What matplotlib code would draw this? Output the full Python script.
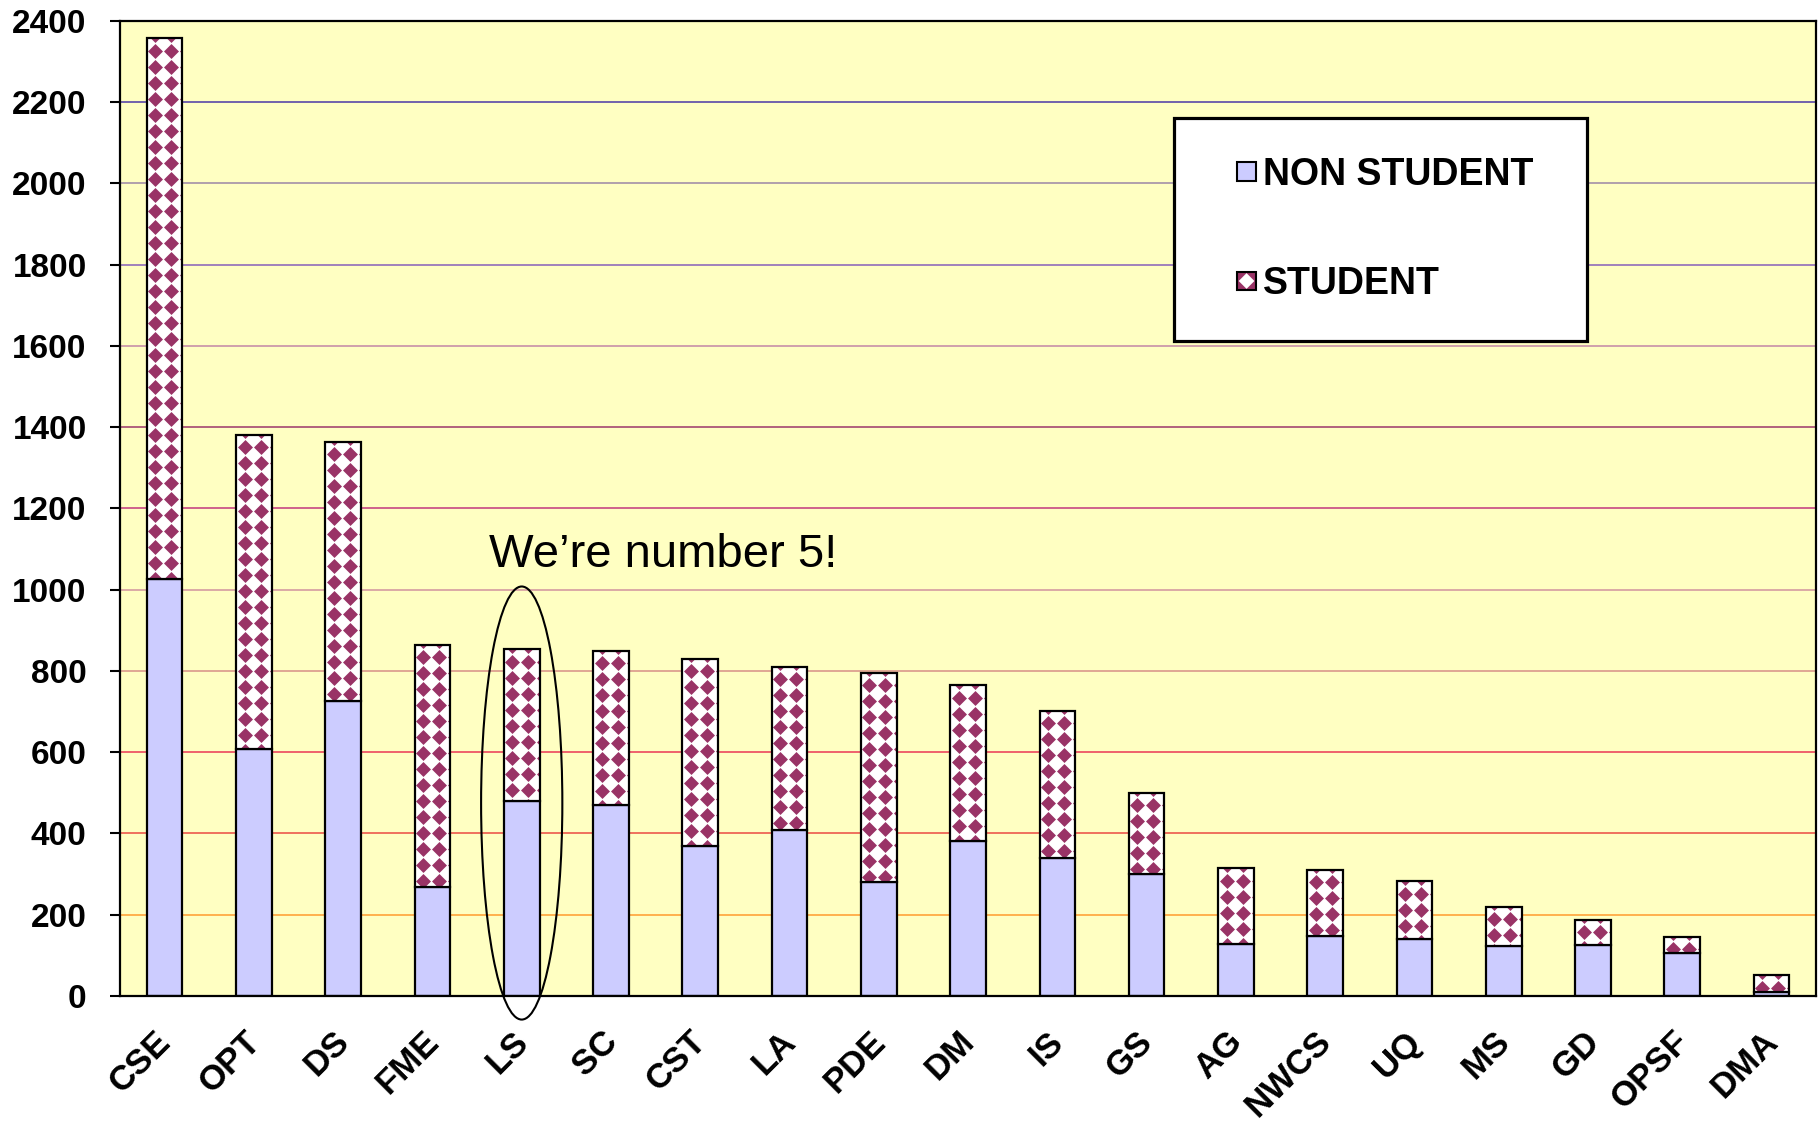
import matplotlib
matplotlib.use('Agg')
import matplotlib.pyplot as plt
import numpy as np
from matplotlib.patches import Ellipse, Rectangle, Patch, RegularPolygon
from matplotlib.transforms import ScaledTranslation

plt.rcParams['font.family'] = ['Liberation Sans', 'DejaVu Sans']

# ---------------- data ----------------
categories = ['CSE', 'OPT', 'DS', 'FME', 'LS', 'SC', 'CST', 'LA', 'PDE', 'DM',
              'IS', 'GS', 'AG', 'NWCS', 'UQ', 'MS', 'GD', 'OPSF', 'DMA']
non_student = [1027, 608, 725, 268, 479, 471, 368, 408, 280, 382,
               340, 300, 128, 148, 140, 123, 126, 106, 10]
student = [1330, 773, 639, 597, 374, 379, 462, 403, 516, 383,
           362, 200, 186, 163, 143, 97, 62, 40, 41]
series_labels = ['NON STUDENT', 'STUDENT']
y_ticks = [0, 200, 400, 600, 800, 1000, 1200, 1400, 1600, 1800, 2000, 2200, 2400]
annotation = 'We\u2019re number 5!'
highlight_index = 4

# ---------------- style ----------------
grid_colors = ['#FFAA44', '#EE6655', '#EE5566', '#DDA090', '#D8A4A4', '#CC5588',
               '#AA5577', '#CC99AA', '#9977BB', '#AA99AA', '#6655AA']
non_color = '#CCCCFF'
dot_color = '#993366'
bg_color = '#FFFFC2'
bar_w = 0.4

fig = plt.figure(figsize=(18.18, 11.22), dpi=100)
ax = fig.add_axes([0.066, 0.1123, 0.933, 0.869])
ax.set_facecolor(bg_color)

x = np.arange(len(categories))
ax.set_xlim(-0.5, len(categories) - 0.5)
ax.set_ylim(y_ticks[0], y_ticks[-1])

for yv, c in zip(y_ticks[1:-1], grid_colors):
    ax.axhline(yv, color=c, lw=1.3, zorder=1)

ax.bar(x, non_student, bar_w, color=non_color, edgecolor='black', lw=1.6, zorder=3)
fill_bars = ax.bar(x, student, bar_w, bottom=non_student, color='white',
                   edgecolor='none', zorder=3)

# diamond pattern inside the student bars (pixel-periodic pattern)
period = 16.0
inv = ax.transData.inverted()
for patch in fill_bars.patches:
    (x0, y0) = ax.transData.transform((patch.get_x(), patch.get_y()))
    (x1, y1) = ax.transData.transform((patch.get_x() + patch.get_width(),
                                       patch.get_y() + patch.get_height()))
    xs = np.arange(x0 + 8.5, x1 + 9, period)
    ys = np.arange(y1 - 12.5, y0 - 9, -period)
    ys = np.concatenate([[y1 + 3.5], ys])
    gx, gy = np.meshgrid(xs, ys)
    pts = inv.transform(np.column_stack([gx.ravel(), gy.ravel()]))
    sc = ax.scatter(pts[:, 0], pts[:, 1], marker='D', s=58, color=dot_color,
                    linewidths=0, zorder=4)
    sc.set_clip_path(patch)

ax.bar(x, student, bar_w, bottom=non_student, fill=False, edgecolor='black',
       lw=1.6, zorder=5)

# ellipse highlight and annotation
ax.add_patch(Ellipse((highlight_index, 475), 0.91, 1066, fill=False,
                     edgecolor='black', lw=1.5, clip_on=False, zorder=6))
ax.text(5.58, 1056, annotation, ha='center', va='baseline', fontsize=34,
        color='black', zorder=6)

# axes styling
for sp in ax.spines.values():
    sp.set_linewidth(1.6)
    sp.set_color('black')
    sp.set_zorder(7)

ax.set_yticks(y_ticks)
ax.set_yticklabels([str(v) for v in y_ticks], fontweight='bold', fontsize=24)
ax.tick_params(axis='y', length=7, width=1.5, direction='out', pad=17)

ax.set_xticks(x)
ax.set_xticklabels(categories, rotation=45, ha='right', va='baseline',
                   rotation_mode='anchor', fontweight='bold', fontsize=25)
ax.tick_params(axis='x', length=0, pad=34)
offset = ScaledTranslation(0.08, 0, fig.dpi_scale_trans)
for lab in ax.get_xticklabels():
    lab.set_transform(lab.get_transform() + offset)


class SquareHandler:
    def __init__(self, face, pattern=False):
        self.face = face
        self.pattern = pattern

    def legend_artist(self, legend, orig_handle, fontsize, handlebox):
        xd, yd = handlebox.xdescent, handlebox.ydescent
        w, h = handlebox.width, handlebox.height
        s = 0.5 * fontsize
        left = -xd + w - s
        bottom = -yd + (h - s) / 2
        r = Rectangle((left, bottom), s, s, facecolor=self.face,
                      edgecolor='black', lw=1.5,
                      transform=handlebox.get_transform())
        handlebox.add_artist(r)
        if self.pattern:
            d = RegularPolygon((left + s / 2, bottom + s / 2), 4, radius=s * 0.42,
                               facecolor='white', edgecolor='none',
                               transform=handlebox.get_transform())
            handlebox.add_artist(d)
        return r


h_non = Patch(facecolor=non_color, edgecolor='black', label=series_labels[0])
h_stu = Patch(facecolor=dot_color, edgecolor='black', label=series_labels[1])
leg = ax.legend(handles=[h_non, h_stu], loc='upper left',
                bbox_to_anchor=(0.6215, 0.5, 0.2435, 0.4005), mode='expand',
                borderaxespad=0, borderpad=1.03, labelspacing=1.96,
                handlelength=1.15, handleheight=0.7, handletextpad=0.2,
                prop={'weight': 'bold', 'size': 27}, fancybox=False,
                framealpha=1, edgecolor='black',
                handler_map={h_non: SquareHandler(non_color),
                             h_stu: SquareHandler(dot_color, pattern=True)})
leg.get_frame().set_linewidth(2.3)
leg.set_zorder(8)

fig.savefig('out.png', dpi=100, facecolor='white')
